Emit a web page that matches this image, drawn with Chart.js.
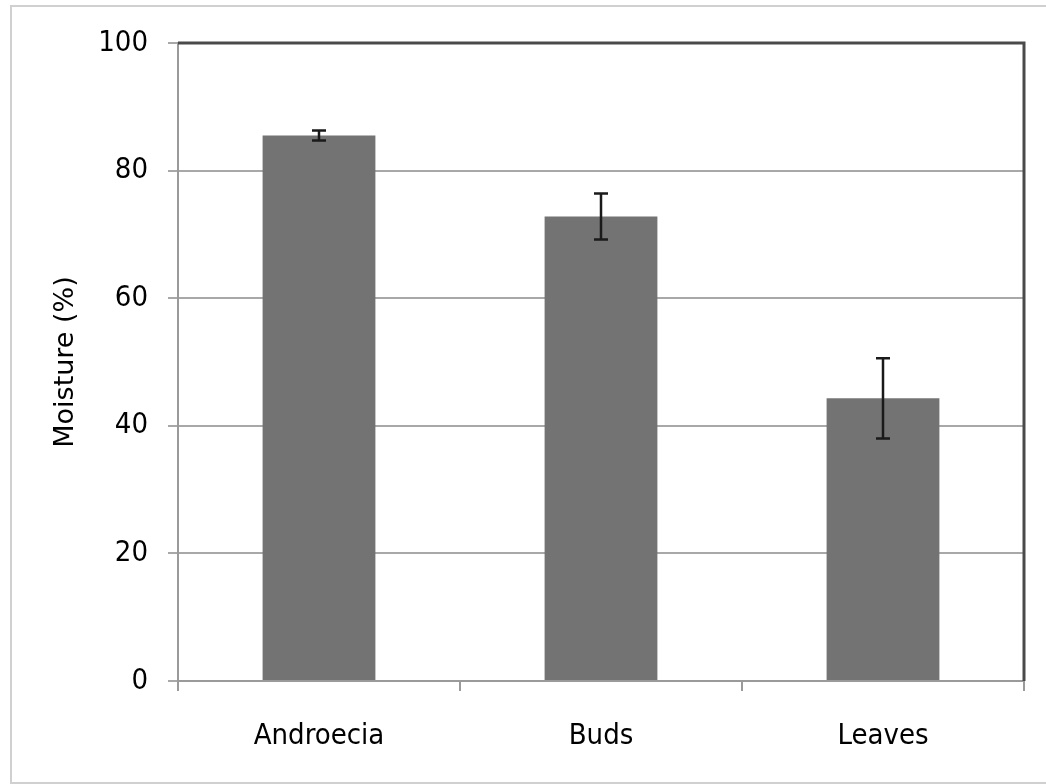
<!DOCTYPE html>
<html>
<head>
<meta charset="utf-8">
<script src="https://cdn.jsdelivr.net/npm/chart.js@4"></script>
<style>
  html, body { margin: 0; padding: 0; background: #fff; }
  #wrap { width: 1046px; height: 784px; }
</style>
</head>
<body>
<div id="wrap"><canvas id="moistureChart" width="1046" height="784"></canvas></div>
<script>
// values
const categories = ['Androecia', 'Buds', 'Leaves'];
const moisture = [85.5, 72.8, 44.3];
const moistureErr = [0.8, 3.6, 6.3];
const yTicks = [0, 20, 40, 60, 80, 100];

const narrowFont = "'Liberation Sans Narrow', 'DejaVu Sans Condensed', sans-serif";

// outer frame + dark top/right plot border
const framePlugin = {
  id: 'frame',
  beforeDraw(chart) {
    const ctx = chart.ctx;
    ctx.save();
    ctx.fillStyle = '#fff';
    ctx.fillRect(0, 0, chart.width, chart.height);
    ctx.strokeStyle = '#d0d0d0';
    ctx.lineWidth = 2;
    ctx.strokeRect(11, 6, chart.width + 10, chart.height - 7);
    ctx.restore();
  },
  afterDatasetsDraw(chart) {
    const { ctx, chartArea } = chart;
    ctx.save();
    ctx.strokeStyle = '#4a4a4a';
    ctx.lineWidth = 3;
    ctx.beginPath();
    ctx.moveTo(chartArea.left, chartArea.top);
    ctx.lineTo(chartArea.right, chartArea.top);
    ctx.lineTo(chartArea.right, chartArea.bottom);
    ctx.stroke();
    ctx.restore();
  }
};

// error bars drawn through the scales
const errorBarPlugin = {
  id: 'errorBars',
  afterDatasetsDraw(chart) {
    const ctx = chart.ctx;
    const meta = chart.getDatasetMeta(0);
    const y = chart.scales.y;
    ctx.save();
    ctx.strokeStyle = '#1a1a1a';
    ctx.lineWidth = 2.5;
    meta.data.forEach((bar, i) => {
      const top = y.getPixelForValue(moisture[i] + moistureErr[i]);
      const bottom = y.getPixelForValue(moisture[i] - moistureErr[i]);
      const x = bar.x;
      ctx.beginPath();
      ctx.moveTo(x, top);
      ctx.lineTo(x, bottom);
      ctx.moveTo(x - 7, top);
      ctx.lineTo(x + 7, top);
      ctx.moveTo(x - 7, bottom);
      ctx.lineTo(x + 7, bottom);
      ctx.stroke();
    });
    ctx.restore();
  }
};

new Chart(document.getElementById('moistureChart'), {
  type: 'bar',
  data: {
    labels: categories,
    datasets: [{
      data: moisture,
      backgroundColor: '#737373',
      borderWidth: 0,
      categoryPercentage: 1,
      barPercentage: 0.4
    }]
  },
  options: {
    responsive: false,
    animation: false,
    events: [],
    layout: { padding: { left: 0, top: 43, right: 22, bottom: 0 } },
    plugins: {
      legend: { display: false },
      tooltip: { enabled: false }
    },
    scales: {
      x: {
        afterFit: (scale) => { scale.height = 103; },
        grid: {
          offset: true,
          drawOnChartArea: false,
          drawTicks: true,
          tickLength: 10,
          color: '#9a9a9a',
          lineWidth: 2
        },
        border: { color: '#9a9a9a', width: 2 },
        ticks: {
          color: '#000',
          padding: 28,
          font: { family: narrowFont, size: 29 }
        }
      },
      y: {
        min: 0,
        max: 100,
        afterFit: (scale) => { scale.width = 178; },
        afterBuildTicks: (scale) => { scale.ticks = yTicks.map(v => ({ value: v })); },
        grid: {
          color: '#a8a8a8',
          lineWidth: 2,
          tickLength: 10
        },
        border: { color: '#9a9a9a', width: 2 },
        ticks: {
          color: '#000',
          padding: 20,
          font: { family: narrowFont, size: 29 }
        },
        title: {
          display: true,
          text: 'Moisture (%)',
          color: '#000',
          padding: { top: 50, bottom: 0 },
          font: { family: "'DejaVu Sans', sans-serif", size: 27 }
        }
      }
    }
  },
  plugins: [framePlugin, errorBarPlugin]
});
</script>
</body>
</html>
